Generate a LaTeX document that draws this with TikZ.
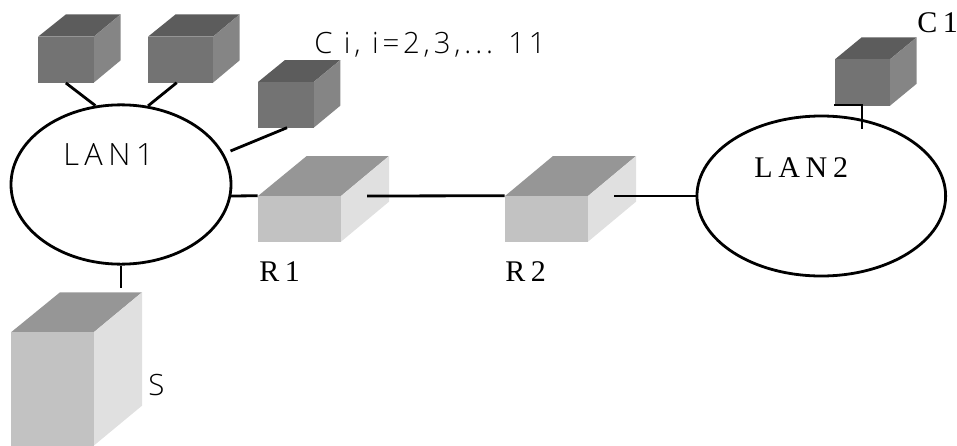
\documentclass[tikz,border=0pt]{standalone}
\usepackage{fontspec}
\usetikzlibrary{fit,shapes.geometric}
\setmainfont{Liberation Serif}
\newfontfamily\lanA[LetterSpace=18]{Open Sans Light}
\newfontfamily\ciA[LetterSpace=13]{Open Sans Light}
\newfontfamily\serA[LetterSpace=19]{Liberation Serif}
\definecolor{darkfront}{HTML}{737373}
\definecolor{darktop}{HTML}{5C5C5C}
\definecolor{darkside}{HTML}{858585}
\definecolor{lightfront}{HTML}{C2C2C2}
\definecolor{lighttop}{HTML}{969696}
\definecolor{lightside}{HTML}{E0E0E0}
\tikzset{
  net/.style={ellipse,draw=black,line width=2.1pt,fill=white,inner sep=0pt},
  wire/.style={draw=black,line width=2.1pt},
  lbl/.style={anchor=base west,inner sep=0pt,text=black},
}
% name, colour prefix, front x0, y0, x1, y1, back-left x, back-right x, top y
\newcommand{\cubeat}[9]{%
  \fill[#2top] (#3,#4) -- (#7,#9) -- (#8,#9) -- (#5,#4) -- cycle;
  \fill[#2side] (#5,#4) -- (#8,#9) -- (#8,{#6-(#4-#9)}) -- (#5,#6) -- cycle;
  \node[fit={(#3,#4)(#5,#6)},inner sep=0pt,fill=#2front] (#1) {};
}
\begin{document}
\begin{tikzpicture}[x=0.75pt,y=-0.75pt]
\useasboundingbox (0,0) rectangle (957,446);
\cubeat{ca}{dark}{38}{36.7}{93.7}{82.7}{66}{120.7}{14.3}
\cubeat{cb}{dark}{148}{36.7}{213}{82.7}{175.7}{239.7}{14.3}
\cubeat{cc}{dark}{258}{82}{313.7}{127.7}{285}{340.3}{60}
\cubeat{cd}{dark}{835}{59.3}{890}{105.7}{861.7}{916.7}{37.3}
\cubeat{ra}{light}{258}{196}{341}{241.7}{306.7}{389}{156}
\cubeat{rb}{light}{505}{196}{588}{241.7}{553}{636}{156}
\cubeat{sv}{light}{11}{332.3}{93.7}{445.7}{60}{142}{292.3}
\node[net,minimum width=165pt,minimum height=119.5pt] (lana) at (121,184.5) {};
\node[net,minimum width=186.5pt,minimum height=120pt] (lanb) at (821.3,196) {};
\coordinate (cbp) at (176.7,82.7);
\coordinate (ccp) at (287,127.7);
\coordinate (lanap) at (230.5,151);
\coordinate (rap) at (367,196);
\coordinate (rbp) at (614,196);
\coordinate (svp) at (121,288);
\coordinate (lanat) at (231,196);
\coordinate (cdk) at (862,105);
\coordinate (cdl) at (862,128.5);
\coordinate (cdm) at (834,105);
\draw[wire] (ca.south) -- (lana.108);
\draw[wire] (cbp) -- (lana.71);
\draw[wire] (ccp) -- (lanap);
\draw[wire] (lanat) -- (ra.north west);
\draw[wire] (rap) -- (rb.north west);
\draw[wire] (rbp) -- (lanb.west);
\draw[wire] (lana.south) -- (svp);
\draw[wire] (cdm) -- (cdk) -- (cdl);
\node[lbl,font=\fontsize{23pt}{26pt}\lanA] (ta) at (63,165.7) {LAN1};
\node[lbl,font=\fontsize{22pt}{26pt}\ciA] (tb) at (314,53.5) {C i,  i=2,3,... 11};
\node[lbl,font=\fontsize{22.5pt}{26pt}\serA] (tc) at (754,177.7) {LAN2};
\node[lbl,font=\fontsize{22.5pt}{26pt}\serA] (td) at (917,32) {C1};
\node[lbl,font=\fontsize{22.5pt}{26pt}\serA] (te) at (259,281.7) {R1};
\node[lbl,font=\fontsize{22.5pt}{26pt}\serA] (tf) at (505,281.7) {R2};
\node[lbl,font=\fontsize{22pt}{26pt}\lanA] (tg) at (148,395) {S};
\end{tikzpicture}
\end{document}
